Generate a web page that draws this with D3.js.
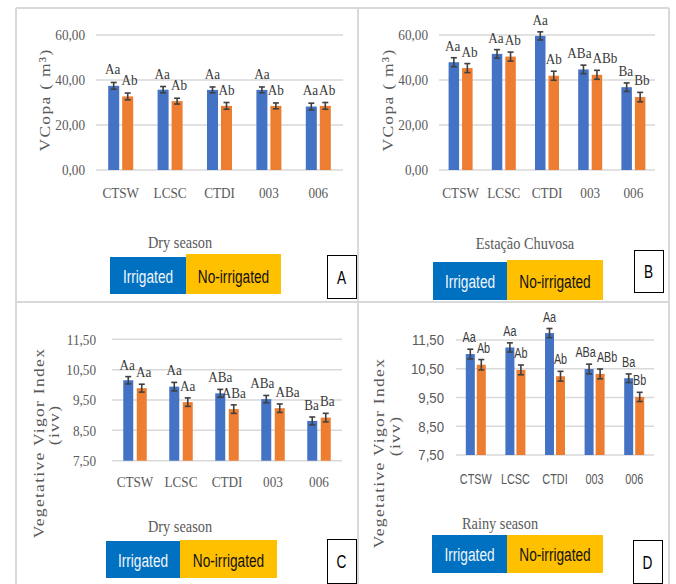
<!DOCTYPE html>
<html>
<head>
<meta charset="utf-8">
<script src="https://cdn.jsdelivr.net/npm/d3@7"></script>
<style>
  body { margin: 0; background: #fff; }
  svg { display: block; }
</style>
</head>
<body>
<div id="chart"></div>
<script>
const categories = ["CTSW", "LCSC", "CTDI", "003", "006"];
const seriesNames = ["Irrigated", "No-irrigated"];
const panelLetters = ["A", "B", "C", "D"];
const panelTitles = ["Dry season", "Estação Chuvosa", "Dry season", "Rainy season"];

// crown volume (VCopa), dry season
const vcopaDryIrr = [37.4, 35.7, 35.6, 35.6, 28.2];
const vcopaDryNon = [32.7, 30.6, 28.5, 28.5, 28.5];
const vcopaDryIrrErr = [1.5, 1.4, 1.3, 1.3, 1.5];
const vcopaDryNonErr = [1.5, 1.3, 1.5, 1.3, 1.5];
const vcopaDryIrrLbl = ["Aa", "Aa", "Aa", "Aa", "Aa"];
const vcopaDryNonLbl = ["Ab", "Ab", "Ab", "Ab", "Ab"];

// crown volume, rainy season
const vcopaRainIrr = [47.9, 51.6, 59.6, 44.7, 36.8];
const vcopaRainNon = [45.3, 50.4, 41.9, 42.3, 32.4];
const vcopaRainIrrErr = [2.0, 1.9, 1.8, 1.9, 1.9];
const vcopaRainNonErr = [2.0, 2.0, 2.0, 2.0, 2.1];
const vcopaRainIrrLbl = ["Aa", "Aa", "Aa", "ABa", "Ba"];
const vcopaRainNonLbl = ["Ab", "Ab", "Ab", "ABb", "Bb"];

// vegetative vigor index, dry season
const ivvDryIrr = [10.15, 9.94, 9.72, 9.53, 8.81];
const ivvDryNon = [9.89, 9.43, 9.20, 9.23, 8.92];
const ivvDryIrrErr = [0.12, 0.14, 0.13, 0.12, 0.13];
const ivvDryNonErr = [0.13, 0.14, 0.14, 0.14, 0.14];
const ivvDryIrrLbl = ["Aa", "Aa", "ABa", "ABa", "Ba"];
const ivvDryNonLbl = ["Aa", "Aa", "ABa", "ABa", "Ba"];

// vegetative vigor index, rainy season
const ivvRainIrr = [11.01, 11.24, 11.74, 10.49, 10.17];
const ivvRainNon = [10.64, 10.46, 10.24, 10.32, 9.52];
const ivvRainIrrErr = [0.17, 0.16, 0.16, 0.17, 0.15];
const ivvRainNonErr = [0.18, 0.17, 0.17, 0.17, 0.16];
const ivvRainIrrLbl = ["Aa", "Aa", "Aa", "ABa", "Ba"];
const ivvRainNonLbl = ["Ab", "Ab", "Ab", "ABb", "Bb"];

const vcopaTicks = [0, 20, 40, 60];
const vcopaTickLabels = ["0,00", "20,00", "40,00", "60,00"];
const ivvTicks = [7.5, 8.5, 9.5, 10.5, 11.5];
const ivvTickLabels = ["7,50", "8,50", "9,50", "10,50", "11,50"];

const width = 676, height = 584;
const blue = "#4472C4", orange = "#ED7D31";
const serif = "'Liberation Serif', 'Times New Roman', serif";
const sans = "'Liberation Sans', Arial, sans-serif";
const gray = "#595959";

const svg = d3.select("#chart").append("svg")
  .attr("width", width).attr("height", height)
  .attr("viewBox", [0, 0, width, height].join(" "));

// panel frame lines
const frame = svg.append("g").attr("stroke", "#d9d9d9").attr("stroke-width", 2);
frame.append("line").attr("x1", 16).attr("x2", 16).attr("y1", 8).attr("y2", height);
frame.append("line").attr("x1", 669).attr("x2", 669).attr("y1", 8).attr("y2", height);
frame.append("line").attr("x1", 358).attr("x2", 358).attr("y1", 8).attr("y2", height);
frame.append("line").attr("x1", 16).attr("x2", 669).attr("y1", 8).attr("y2", 8);
frame.append("line").attr("x1", 16).attr("x2", 669).attr("y1", 302).attr("y2", 302);

// squeezed text helper (the source picture is narrow)
function place(sel, x, y, o) {
  return sel.attr("transform", `translate(${x},${y}) scale(${o.sx},1)` + (o.rot ? " rotate(-90)" : ""));
}
function txt(x, y, s, o) {
  return place(svg.append("text"), x, y, o)
    .attr("text-anchor", o.anchor || "middle")
    .style("font-family", o.font)
    .style("font-size", o.size + "px")
    .style("letter-spacing", (o.ls || 0) + "px")
    .attr("fill", o.color || gray)
    .text(s);
}

function panel(p) {
  const x = d3.scaleBand().domain(categories).range(p.xr);
  const y = d3.scaleLinear().domain(p.yd).range(p.yr);
  const sub = [-(p.bw + p.gap) / 2, (p.bw + p.gap) / 2];

  // grid
  svg.append("g").selectAll("line").data(p.ticks).join("line")
    .attr("x1", p.xr[0]).attr("x2", p.xr[1])
    .attr("y1", d => y(d)).attr("y2", d => y(d))
    .attr("stroke", "#d9d9d9").attr("stroke-width", 1.5);

  // y axis
  const ga = svg.append("g").attr("transform", `translate(${p.xr[0]},0)`)
    .call(d3.axisLeft(y).tickValues(p.ticks).tickFormat((d, i) => p.tickLabels[i])
      .tickSize(0).tickPadding(p.tickPad / p.tsx));
  ga.select(".domain").remove();
  ga.selectAll("text").attr("transform", `scale(${p.tsx},1)`)
    .style("font-family", p.tickFont).style("font-size", p.tickSize + "px").attr("fill", gray);

  // x axis
  const gx = svg.append("g").attr("transform", `translate(0,${p.yr[0]})`)
    .call(d3.axisBottom(x).tickSize(0).tickPadding(p.xPad));
  gx.select(".domain").remove();
  gx.selectAll("text").attr("transform", `scale(${p.xsx},1)`)
    .style("font-family", p.tickFont).style("font-size", p.xSize + "px").attr("fill", gray);

  const series = [
    { vals: p.irr, err: p.irrErr, lbl: p.irrLbl, color: blue },
    { vals: p.non, err: p.nonErr, lbl: p.nonLbl, color: orange }
  ];
  const labels = [[], []];
  series.forEach((s, k) => {
    const cx = i => x(categories[i]) + x.bandwidth() / 2 + sub[k];
    svg.append("g").selectAll("rect").data(s.vals).join("rect")
      .attr("x", (d, i) => cx(i) - p.bw / 2)
      .attr("y", d => y(d))
      .attr("width", p.bw)
      .attr("height", d => y(p.yd[0]) - y(d))
      .attr("fill", s.color);
    const eg = svg.append("g").attr("stroke", "#404040").attr("stroke-width", 1.6);
    s.vals.forEach((v, i) => {
      const c = cx(i), e = s.err[i];
      eg.append("line").attr("x1", c).attr("x2", c).attr("y1", y(v - e)).attr("y2", y(v + e));
      eg.append("line").attr("x1", c - 3).attr("x2", c + 3).attr("y1", y(v - e)).attr("y2", y(v - e));
      eg.append("line").attr("x1", c - 3).attr("x2", c + 3).attr("y1", y(v + e)).attr("y2", y(v + e));
      const o = { sx: p.lsx, font: p.lblFont, size: p.lblSize, color: "#3a3a3a" };
      labels[k].push({ x: c, y: y(v + e) - p.lblGap, o,
        node: txt(c, y(v + e) - p.lblGap, s.lbl[i], o) });
    });
  });

  // push the two letter labels of a group apart when they collide
  categories.forEach((c, i) => {
    const a = labels[0][i], b = labels[1][i];
    const ra = a.node.node().getBoundingClientRect(), rb = b.node.node().getBoundingClientRect();
    const ov = ra.right - rb.left + 0.5;
    if (ov > 0 && ra.bottom - 3 > rb.top && rb.bottom - 3 > ra.top) {
      a.x -= ov / 3; b.x += ov * 2 / 3;
      place(a.node, a.x, a.y, a.o);
      place(b.node, b.x, b.y, b.o);
    }
  });

  // y title
  p.yTitle.forEach(t => txt(t.x, t.y, t.s, { sx: 0.88, rot: true, font: serif, size: 17.5, ls: 1.3 }));

  // season title
  txt(p.title.x, p.title.y, p.title.s, { sx: 0.87, font: serif, size: 16.5 });

  // legend boxes
  const L = p.legend;
  svg.append("rect").attr("x", L.x0).attr("y", L.yb[0]).attr("width", L.x1 - L.x0)
    .attr("height", L.yb[1] - L.yb[0]).attr("fill", "#0070C0");
  svg.append("rect").attr("x", L.x1).attr("y", L.yo[0]).attr("width", L.x2 - L.x1)
    .attr("height", L.yo[1] - L.yo[0]).attr("fill", "#FFC000");
  const ty = (L.yb[0] + L.yb[1]) / 2 + 7;
  txt((L.x0 + L.x1) / 2, ty, seriesNames[0], { sx: 0.72, font: sans, size: 19, color: "#f2f6fb" });
  txt((L.x1 + L.x2) / 2, ty, seriesNames[1], { sx: 0.72, font: sans, size: 19, color: "#111" });

  // panel letter box
  const B = p.box;
  svg.append("rect").attr("x", B[0] + 0.5).attr("y", B[1] + 0.5)
    .attr("width", B[2] - B[0]).attr("height", B[3] - B[1])
    .attr("fill", "#fff").attr("stroke", "#000").attr("stroke-width", 1);
  txt((B[0] + B[2]) / 2, (B[1] + B[3]) / 2 + 7, p.letter, { sx: 0.72, font: sans, size: 19, color: "#000" });
}

panel({
  letter: panelLetters[0], irr: vcopaDryIrr, non: vcopaDryNon, irrErr: vcopaDryIrrErr, nonErr: vcopaDryNonErr,
  irrLbl: vcopaDryIrrLbl, nonLbl: vcopaDryNonLbl, ticks: vcopaTicks, tickLabels: vcopaTickLabels,
  xr: [96, 343], yd: [0, 60], yr: [170, 35], bw: 11, gap: 3,
  tickFont: serif, tickSize: 15, tsx: 0.88, tickPad: 11, xSize: 15, xsx: 0.88, xPad: 17,
  lblFont: serif, lblSize: 15.5, lsx: 0.85, lblGap: 8,
  yTitle: [{ x: 50, y: 100, s: "VCopa ( m³)" }],
  title: { x: 180, y: 248, s: panelTitles[0] },
  legend: { x0: 110, x1: 186, x2: 281, yb: [257, 294], yo: [254, 294] },
  box: [327, 255, 356, 298]
});

panel({
  letter: panelLetters[1], irr: vcopaRainIrr, non: vcopaRainNon, irrErr: vcopaRainIrrErr, nonErr: vcopaRainNonErr,
  irrLbl: vcopaRainIrrLbl, nonLbl: vcopaRainNonLbl, ticks: vcopaTicks, tickLabels: vcopaTickLabels,
  xr: [439, 655], yd: [0, 60], yr: [170, 35], bw: 10.5, gap: 3,
  tickFont: serif, tickSize: 15, tsx: 0.88, tickPad: 11, xSize: 15, xsx: 0.88, xPad: 17,
  lblFont: serif, lblSize: 15.5, lsx: 0.85, lblGap: 7,
  yTitle: [{ x: 393, y: 100, s: "VCopa ( m³)" }],
  title: { x: 525, y: 249, s: panelTitles[1] },
  legend: { x0: 433, x1: 507, x2: 603, yb: [262, 300], yo: [260, 300] },
  box: [634, 250, 663, 292]
});

panel({
  letter: panelLetters[2], irr: ivvDryIrr, non: ivvDryNon, irrErr: ivvDryIrrErr, nonErr: ivvDryNonErr,
  irrLbl: ivvDryIrrLbl, nonLbl: ivvDryNonLbl, ticks: ivvTicks, tickLabels: ivvTickLabels,
  xr: [112, 342], yd: [7.5, 11.5], yr: [460.7, 339.3], bw: 10, gap: 3.5,
  tickFont: serif, tickSize: 15, tsx: 0.88, tickPad: 16, xSize: 15, xsx: 0.88, xPad: 16,
  lblFont: serif, lblSize: 15.5, lsx: 0.85, lblGap: 7,
  yTitle: [{ x: 44, y: 443, s: "Vegetative Vigor Index" }, { x: 59, y: 425, s: "(ivv)" }],
  title: { x: 180, y: 532, s: panelTitles[2] },
  legend: { x0: 106, x1: 180, x2: 277, yb: [541, 578], yo: [540, 578] },
  box: [327, 539, 356, 583]
});

panel({
  letter: panelLetters[3], irr: ivvRainIrr, non: ivvRainNon, irrErr: ivvRainIrrErr, nonErr: ivvRainNonErr,
  irrLbl: ivvRainIrrLbl, nonLbl: ivvRainNonLbl, ticks: ivvTicks, tickLabels: ivvTickLabels,
  xr: [456, 654], yd: [7.5, 11.5], yr: [455, 340], bw: 9, gap: 2,
  tickFont: sans, tickSize: 15, tsx: 0.88, tickPad: 12, xSize: 14.5, xsx: 0.75, xPad: 19,
  lblFont: sans, lblSize: 15, lsx: 0.72, lblGap: 7,
  yTitle: [{ x: 384, y: 453, s: "Vegetative Vigor Index" }, { x: 400, y: 436, s: "(ivv)" }],
  title: { x: 500, y: 529, s: panelTitles[3] },
  legend: { x0: 432, x1: 507, x2: 603, yb: [535, 573], yo: [535, 573] },
  box: [633, 540, 662, 583]
});
</script>
</body>
</html>
